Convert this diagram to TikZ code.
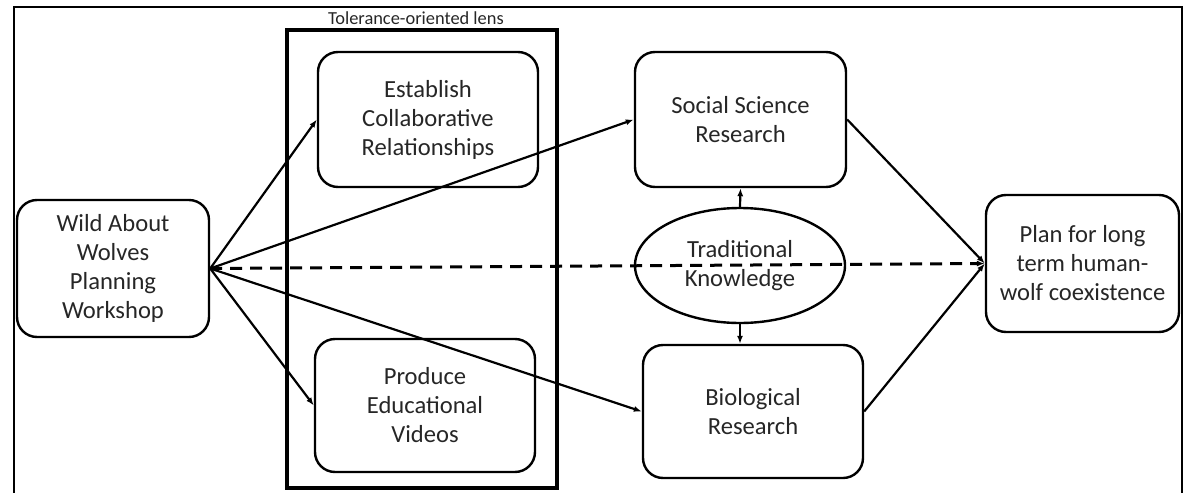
\documentclass[tikz,border=0pt]{standalone}
\usepackage{fontspec}
\setmainfont{Carlito}
\usetikzlibrary{arrows.meta,shapes.geometric}
\begin{document}
\begin{tikzpicture}[x=0.5pt,y=-0.5pt,
    box/.style={draw,line width=1.2pt,rounded corners=10pt,align=center,
        font=\fontsize{12.3}{14.5}\selectfont,inner sep=0pt,text=black!85},
    tip/.style={-{Latex[length=4pt,width=3pt]},line width=1.1pt}]
            \useasboundingbox (0,0) rectangle (1190,493);
            \draw [line width=1.1pt] (14,493) -- (14,7) -- (1182,7) -- (1182,493);
            \draw [line width=2pt] (287,30) rectangle (557,488);
            \node [anchor=west,font=\fontsize{9.2}{11}\selectfont,text=black!85] at (321,18) {Tolerance-oriented lens};
            \node [box,minimum width=96pt,minimum height=68.5pt] (wild) at (113,268.5) {Wild About\\Wolves\\Planning\\Workshop};
            \node [box,minimum width=110pt,minimum height=67.5pt] (collab) at (428,119.5) {Establish\\Collaborative\\Relationships};
            \node [box,minimum width=110pt,minimum height=66.5pt] (videos) at (425,405.5) {Produce\\Educational\\Videos};
            \node [box,minimum width=105.5pt,minimum height=67.5pt] (social) at (740.5,119.5) {Social Science\\Research};
            \node [box,minimum width=110pt,minimum height=66.5pt] (bio) at (753,411.5) {Biological\\Research};
            \node [box,minimum width=96.5pt,minimum height=68.5pt] (plan) at (1082.5,263.5) {Plan for long\\term human-\\wolf coexistence};
            \node [box,ellipse,rounded corners=0pt,minimum width=105pt,minimum height=57.5pt] (trad) at (740,265.5) {Traditional\\Knowledge};
            \draw [tip] (wild.east) -- (collab.west);
            \draw [tip] (wild.east) -- (social.west);
            \draw [tip] (wild.east) -- (videos.west);
            \draw [tip] (wild.east) -- (bio.west);
            \draw [tip,line width=1.5pt,dash pattern=on 6pt off 4pt] (wild.east) -- (plan.west);
            \draw [tip] (social.east) -- (plan.west);
            \draw [tip] (bio.east) -- (plan.west);
            \draw [tip] (trad.north) -- (social.south);
            \draw [tip] (trad.south) -- (trad.south |- bio.north);
        \end{tikzpicture}
\end{document}
